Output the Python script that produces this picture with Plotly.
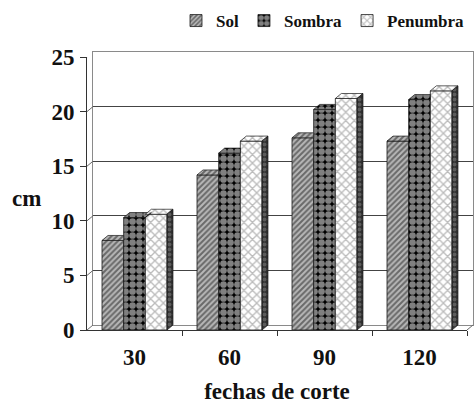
import plotly.graph_objects as go

# Plant height (cm) by cutting date and light condition
fechas = ["30", "60", "90", "120"]
sol = [8.2, 14.2, 17.6, 17.3]
sombra = [10.3, 16.2, 20.2, 21.1]
penumbra = [10.6, 17.3, 21.2, 21.9]
y_ticks = [0, 5, 10, 15, 20, 25]

W, H = 474, 407
M_L, M_R, M_T, M_B = 87, 1, 52, 77
PLOT_W = W - M_L - M_R
PLOT_H = H - M_T - M_B

# oblique depth of the pseudo-3D box, in pixels
DX_PX, DY_PX = 6, 5
FRONT_W = PLOT_W - DX_PX
FRONT_H = PLOT_H - DY_PX
Y_MAX = 25
X_RANGE = [-0.5, len(fechas) - 0.5]
px_per_x = FRONT_W / (X_RANGE[1] - X_RANGE[0])
px_per_y = FRONT_H / Y_MAX
dx = DX_PX / px_per_x
dy = DY_PX / px_per_y

BAR_W = 0.228
FONT = "Liberation Serif"
INK = "#111111"

series = [
    dict(name="Sol", values=sol,
         pattern=dict(shape="/", fgcolor="#1a1a1a", bgcolor="#b8b8b8", size=4, solidity=0.5)),
    dict(name="Sombra", values=sombra,
         pattern=dict(shape=".", fgcolor="#ffffff", bgcolor="#000000", size=7, solidity=0.72)),
    dict(name="Penumbra", values=penumbra,
         pattern=dict(shape="x", fgcolor="#7a7a7a", bgcolor="#ffffff", size=6, solidity=0.4)),
]
n = len(series)
offsets = [-n * BAR_W / 2 + k * BAR_W for k in range(n)]
xs = list(range(len(fechas)))

fig = go.Figure()

# back wall subplot (gridlines only)
fig.add_trace(go.Scatter(x=[None], y=[None], mode="markers", showlegend=False,
                         hoverinfo="skip", xaxis="x", yaxis="y"))

# front faces
for k, s in enumerate(series):
    fig.add_trace(go.Bar(
        x=xs, y=s["values"], name=f"<b>{s['name']}</b>", width=BAR_W, offset=offsets[k],
        marker=dict(pattern=s["pattern"], line=dict(color="#1a1a1a", width=0.8)),
        xaxis="x2", yaxis="y2",
    ))

# top and side faces of each column
side_x, side_y = [], []
for k, s in enumerate(series):
    top_x, top_y = [], []
    for i, v in enumerate(s["values"]):
        x0 = i + offsets[k]
        x1 = x0 + BAR_W
        nxt = series[k + 1]["values"][i] if k + 1 < n else 0.0
        if nxt >= v + dy:
            pts = [(x0, v), (x1, v), (x1, v + dy), (x0 + dx, v + dy), (x0, v)]
        else:
            pts = [(x0, v), (x1, v), (x1 + dx, v + dy), (x0 + dx, v + dy), (x0, v)]
            lo = min(nxt, v)
            side = [(x1, lo), (x1 + dx, lo + dy), (x1 + dx, v + dy), (x1, v), (x1, lo)]
            side_x += [p[0] for p in side] + [None]
            side_y += [p[1] for p in side] + [None]
        top_x += [p[0] for p in pts] + [None]
        top_y += [p[1] for p in pts] + [None]
    fig.add_trace(go.Scatter(
        x=top_x, y=top_y, mode="lines", fill="toself",
        fillpattern=s["pattern"], fillcolor=s["pattern"]["bgcolor"],
        line=dict(color="#1a1a1a", width=0.7),
        showlegend=False, hoverinfo="skip", xaxis="x2", yaxis="y2",
    ))

fig.add_trace(go.Scatter(
    x=side_x, y=side_y, mode="lines", fill="toself",
    fillcolor="#3a3a3a",
    fillpattern=dict(shape=".", fgcolor="#8a8a8a", bgcolor="#2e2e2e", size=5, solidity=0.45),
    line=dict(color="#1a1a1a", width=0.7),
    showlegend=False, hoverinfo="skip", xaxis="x2", yaxis="y2",
))

# diagonal edges of the side wall and floor
shapes = []
x_back_left = DX_PX / PLOT_W
for t in y_ticks:
    shapes.append(dict(type="line", xref="paper", yref="y2",
                       x0=0.0, y0=t, x1=x_back_left, y1=t + dy,
                       line=dict(color="#6a6a6a", width=1)))
shapes.append(dict(type="line", xref="paper", yref="y2",
                   x0=FRONT_W / PLOT_W, y0=0, x1=1.0, y1=dy,
                   line=dict(color="#6a6a6a", width=1)))

fig.update_layout(
    width=W, height=H,
    margin=dict(l=M_L, r=M_R, t=M_T, b=M_B),
    paper_bgcolor="white", plot_bgcolor="rgba(0,0,0,0)",
    barmode="overlay",
    font=dict(family=FONT, color=INK),
    # back wall with gridlines
    xaxis=dict(domain=[DX_PX / PLOT_W, 1.0], range=X_RANGE, showticklabels=False,
               ticks="", showgrid=False, zeroline=False,
               showline=True, mirror=True, linecolor="#8a8a8a", linewidth=1,
               anchor="y"),
    yaxis=dict(domain=[DY_PX / PLOT_H, 1.0], range=[0, Y_MAX], tickvals=y_ticks,
               showticklabels=False, ticks="", showgrid=True, gridcolor="#444444",
               gridwidth=1, zeroline=False,
               showline=True, mirror=True, linecolor="#8a8a8a", linewidth=1,
               anchor="x"),
    # front axes carrying the columns
    xaxis2=dict(domain=[0, FRONT_W / PLOT_W], range=X_RANGE,
                tickvals=xs, ticktext=[f"<b>{t}</b>" for t in fechas], ticks="",
                minor=dict(tickvals=[x + 0.5 for x in xs], ticks="outside",
                           ticklen=5, tickcolor="#333333", tickwidth=1),
                showgrid=False, zeroline=False,
                showline=True, linecolor="#333333", linewidth=1,
                tickfont=dict(family=FONT, size=23, color=INK),
                ticklabelstandoff=6,
                title=dict(text="<b>fechas de corte</b>", standoff=14,
                           font=dict(family=FONT, size=23, color=INK)),
                anchor="y2"),
    yaxis2=dict(domain=[0, FRONT_H / PLOT_H], range=[0, Y_MAX], tickvals=y_ticks,
                ticktext=[f"<b>{t}</b>" for t in y_ticks],
                ticks="outside", ticklen=6, tickcolor="#333333",
                showgrid=False, zeroline=False,
                showline=True, linecolor="#333333", linewidth=1,
                tickfont=dict(family=FONT, size=23, color=INK),
                ticklabelstandoff=1,
                anchor="x2"),
    legend=dict(orientation="h", xref="container", yref="container",
                x=1 - 4 / W, xanchor="right", y=1 - 21 / H, yanchor="middle",
                font=dict(family=FONT, size=17, color=INK),
                itemwidth=30, tracegroupgap=0, bgcolor="rgba(0,0,0,0)"),
    shapes=shapes,
    annotations=[dict(text="<b>cm</b>", xref="paper", yref="paper",
                      x=(26 - M_L) / PLOT_W, y=1 - (198 - M_T) / PLOT_H,
                      showarrow=False, xanchor="center", yanchor="middle",
                      font=dict(family=FONT, size=23, color=INK))],
)

fig.write_html("out.html")
